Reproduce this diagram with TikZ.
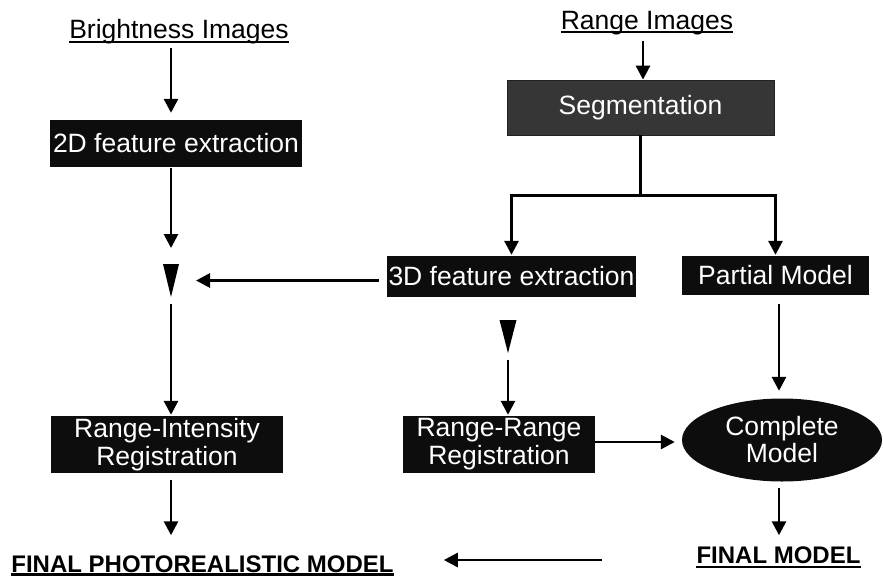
\documentclass[tikz,border=0pt]{standalone}
\usepackage{fontspec}
\setmainfont{Liberation Sans}
\usetikzlibrary{arrows.meta,shapes.geometric,calc}
\begin{document}
\begin{tikzpicture}[x=1pt,y=-1pt,
  txt/.style={inner sep=0pt,font=\fontsize{26.5}{28}\selectfont},
  boldtxt/.style={inner sep=0pt,font=\fontsize{24}{26}\selectfont\bfseries},
  blackbox/.style={rectangle,fill=black!95,text=white,inner sep=0pt,align=center,font=\fontsize{26.5}{28}\selectfont},
  arr/.style={line width=2.8pt,-{Triangle[width=14pt,length=14pt]}},
  conn/.style={line width=2.8pt},
  ul/.style={line width=1.7pt},
  ulb/.style={line width=2.6pt},
  trishape/.style={fill=black}]
\useasboundingbox (0,0) rectangle (883,576);

% text labels
\node[txt,anchor=base] (bright) at (179,38) {Brightness Images};
\node[txt,anchor=base] (rimg) at (647,29) {Range Images};
\node[boldtxt,anchor=base] (fphoto) at (202.5,572) {FINAL PHOTOREALISTIC MODEL};
\node[boldtxt,anchor=base] (fmodel) at (778.5,563) {FINAL MODEL};
\draw[ul] ([yshift=-4pt]bright.base west) -- ([yshift=-4pt]bright.base east);
\draw[ul] ([yshift=-3pt]rimg.base west) -- ([yshift=-3pt]rimg.base east);
\draw[ulb] ([yshift=-2.5pt]fphoto.base west) -- ([yshift=-2.5pt]fphoto.base east);
\draw[ulb] ([yshift=-4pt]fmodel.base west) -- ([yshift=-4pt]fmodel.base east);

% boxes
\node[blackbox,minimum width=252pt,minimum height=47pt] (b2d) at (176,143.5) {2D feature extraction};
\node[rectangle,fill=black!79,draw=black!87,line width=0.8pt,text=white,inner sep=0pt,
      font=\fontsize{26.5}{28}\selectfont,minimum width=267pt,minimum height=55pt] (seg) at (640.5,107.5) {Segmentation};
\node[blackbox,minimum width=249pt,minimum height=41pt] (b3d) at (511.5,276.5) {3D feature extraction};
\node[blackbox,minimum width=187pt,minimum height=39pt] (part) at (775.5,275.5) {Partial Model};
\node[blackbox,minimum width=232pt,minimum height=57pt] (rint) at (167,444.5) {Range-Intensity\\Registration};
\node[blackbox,minimum width=192pt,minimum height=57pt] (rr) at (499,444.5) {Range-Range\\Registration};
\node[ellipse,fill=black!95,text=white,inner sep=0pt,align=center,font=\fontsize{26.5}{27}\selectfont,
      minimum width=200pt,minimum height=83pt] (ell) at (782,440) {Complete\\Model};

% triangles
\coordinate (t1) at (171,280.5);
\fill[trishape] ([shift={(-8,-16.5)}]t1) -- ([shift={(8,-16.5)}]t1) -- ([shift={(0,16.5)}]t1) -- cycle;
\coordinate (t2) at (508,336.5);
\fill[trishape] ([shift={(-8.5,-16.5)}]t2) -- ([shift={(8.5,-16.5)}]t2) -- ([shift={(0,16.5)}]t2) -- cycle;
\coordinate (R) at (779,0);

% connectors left column
\draw[arr,shorten <=4.4pt,shorten >=7pt] (bright.south -| t1) -- (b2d.north -| t1);
\draw[arr,shorten <=1pt,shorten >=32.5pt] (b2d.south -| t1) -- (t1);
\draw[arr,shorten <=8pt,shorten >=25pt] (b3d.west |- t1) -- (t1);
\draw[arr,shorten <=23.5pt,shorten >=1pt] (t1) -- (rint.north -| t1);
\draw[arr,shorten <=7pt,shorten >=19.8pt] (rint.south -| t1) -- (fphoto.north -| t1);

% right part
\draw[arr,shorten <=6pt] (rimg.south -| 643,0) -- (seg.north -| 643,0);
\draw[conn] (seg.south) -- ++(0,60) coordinate (br);
\draw[arr,shorten >=1pt] (br) -| (b3d.north);
\draw[arr,shorten >=1pt] (br) -| (part.north);
\draw[arr,shorten <=23.5pt,shorten >=1pt] (t2) -- (rr.north -| t2);
\draw[arr,shorten >=7pt] (rr.east |- 0,442) -- (ell.west |- 0,442);
\draw[arr,shorten <=9pt,shorten >=7.5pt] (part.south -| R) -- (ell.north -| R);
\draw[arr,shorten <=6.5pt,shorten >=10.8pt] (ell.south -| R) -- (fmodel.north -| R);
\draw[arr,shorten <=94pt,shorten >=50pt] ([yshift=3pt]fmodel.base west) -- ([yshift=3pt]fmodel.base west -| fphoto.base east);
\end{tikzpicture}
\end{document}
